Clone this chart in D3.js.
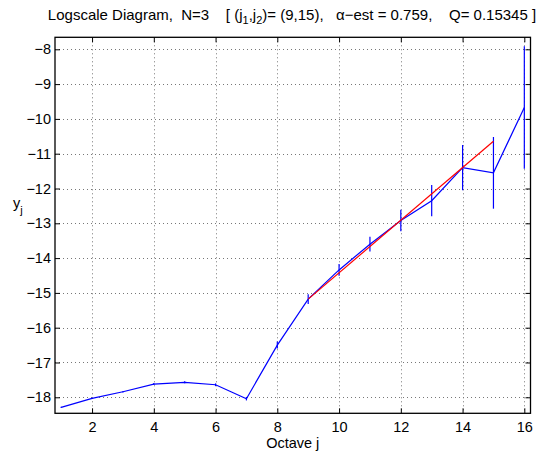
<!DOCTYPE html>
<html lang="en">
<head>
<meta charset="utf-8">
<title>Logscale Diagram</title>
<style>
  body { margin: 0; background: #fff; }
  svg text { font-family: "Liberation Sans", Arial, Helvetica, sans-serif; fill: #000; }
</style>
</head>
<body>
<div id="chart"></div>
<script src="https://cdn.jsdelivr.net/npm/d3@7"></script>
<script>
// data
var octaves = [1, 2, 3, 4, 5, 6, 7, 8, 9, 10, 11, 12, 13, 14, 15, 16];
var yj = [-18.29, -18.03, -17.84, -17.62, -17.57, -17.64, -18.04, -16.50,
          -15.18, -14.34, -13.60, -12.92, -12.35, -11.40, -11.55, -9.67];
var errs = [0.02, 0.02, 0.02, 0.03, 0.03, 0.04, 0.05, 0.10,
            0.14, 0.17, 0.21, 0.31, 0.45, 0.65, 1.03, 1.76];
var fitJ = [9, 15];
var fitY = [-15.18, -10.64];
var xTicks = [2, 4, 6, 8, 10, 12, 14, 16];
var yTicks = [-18, -17, -16, -15, -14, -13, -12, -11, -10, -9, -8];

var width = 541, height = 455;
var plotL = 55, plotR = 530.5, plotT = 37.3, plotB = 413.3;

var svg = d3.select("#chart").append("svg")
    .attr("width", width)
    .attr("height", height);

var x = d3.scaleLinear().domain([0.8, 16.2]).range([plotL, plotR]);
var y = d3.scaleLinear().domain([-18.46, -7.655]).range([plotB, plotT]);

var fmt = function(d) { return String(d).replace("-", "\u2212"); };

// grid
var grid = svg.append("g")
    .attr("stroke", "#777")
    .attr("stroke-width", 1)
    .attr("stroke-dasharray", "1,3");
grid.selectAll(".gx").data(xTicks).enter().append("line")
    .attr("x1", function(d){ return Math.round(x(d)) + 0.5; })
    .attr("x2", function(d){ return Math.round(x(d)) + 0.5; })
    .attr("y1", plotT).attr("y2", plotB);
grid.selectAll(".gy").data(yTicks).enter().append("line")
    .attr("y1", function(d){ return Math.round(y(d)) + 0.5; })
    .attr("y2", function(d){ return Math.round(y(d)) + 0.5; })
    .attr("x1", plotL).attr("x2", plotR);

// axes (ticks inward, on all four sides)
var tk = 5;
svg.append("g")
    .attr("transform", "translate(0," + plotB + ")")
    .call(d3.axisBottom(x).tickValues(xTicks).tickSizeInner(-tk).tickSizeOuter(0).tickPadding(8).tickFormat(fmt));
svg.append("g")
    .attr("transform", "translate(0," + plotT + ")")
    .call(d3.axisTop(x).tickValues(xTicks).tickSizeInner(-tk).tickSizeOuter(0).tickFormat(""));
svg.append("g")
    .attr("transform", "translate(" + plotL + ",0)")
    .call(d3.axisLeft(y).tickValues(yTicks).tickSizeInner(-tk).tickSizeOuter(0).tickPadding(4).tickFormat(fmt));
svg.append("g")
    .attr("transform", "translate(" + plotR + ",0)")
    .call(d3.axisRight(y).tickValues(yTicks).tickSizeInner(-tk).tickSizeOuter(0).tickFormat(""));
svg.selectAll(".domain").remove();
svg.selectAll(".tick line").attr("stroke", "#000").attr("stroke-width", 1);
svg.selectAll(".tick text").attr("font-size", 14.5).attr("font-family", null).attr("fill", "#000");

svg.append("rect")
    .attr("x", plotL).attr("y", plotT)
    .attr("width", plotR - plotL).attr("height", plotB - plotT)
    .attr("fill", "none").attr("stroke", "#000").attr("stroke-width", 1.3);

// error bars
svg.selectAll(".err").data(octaves).enter().append("line")
    .attr("x1", function(d){ return x(d); })
    .attr("x2", function(d){ return x(d); })
    .attr("y1", function(d, i){ return y(yj[i] - errs[i]); })
    .attr("y2", function(d, i){ return y(yj[i] + errs[i]); })
    .attr("stroke", "#0000ff").attr("stroke-width", 1.2);

// estimates
var line = d3.line()
    .x(function(d){ return x(d[0]); })
    .y(function(d){ return y(d[1]); });
svg.append("path")
    .attr("d", line(d3.zip(octaves, yj)))
    .attr("fill", "none").attr("stroke", "#0000ff").attr("stroke-width", 1.2);

// regression line
svg.append("path")
    .attr("d", line(d3.zip(fitJ, fitY)))
    .attr("fill", "none").attr("stroke", "#ff0000").attr("stroke-width", 1.2);

// title
var title = svg.append("text")
    .attr("x", 292).attr("y", 20)
    .attr("text-anchor", "middle")
    .attr("font-size", 15)
    .style("white-space", "pre");
title.append("tspan").text("Logscale Diagram,  N=3    [ (j");
title.append("tspan").attr("dy", 4).attr("font-size", 11).text("1");
title.append("tspan").attr("dy", -4).text(",j");
title.append("tspan").attr("dy", 4).attr("font-size", 11).text("2");
title.append("tspan").attr("dy", -4).text(")= (9,15),   \u03b1\u2212est = 0.759,    Q= 0.15345 ]");

// axis labels
svg.append("text")
    .attr("x", (plotL + plotR) / 2).attr("y", 448)
    .attr("text-anchor", "middle")
    .attr("font-size", 14.5)
    .text("Octave j");
var yl = svg.append("text")
    .attr("x", 13).attr("y", 208)
    .attr("font-size", 14.5);
yl.append("tspan").text("y");
yl.append("tspan").attr("dy", 6).attr("font-size", 11).text("j");
</script>
</body>
</html>
